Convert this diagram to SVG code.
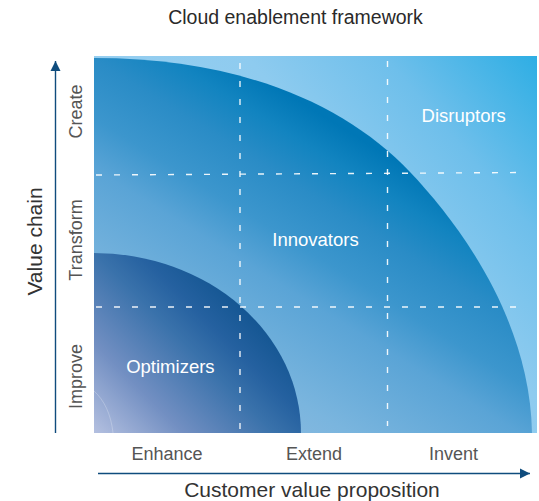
<svg xmlns="http://www.w3.org/2000/svg" width="539" height="501" viewBox="0 0 539 501">
  <style>
    .title { font-family: "Liberation Sans", Arial, sans-serif; font-size: 19.5px; fill: #2a2a2a; text-anchor: middle; }
    .axis-title { font-family: "Liberation Sans", Arial, sans-serif; font-size: 21px; fill: #333333; text-anchor: middle; }
    .tick { font-family: "Liberation Sans", Arial, sans-serif; font-size: 18px; fill: #555555; text-anchor: middle; }
    .region { font-family: "Liberation Sans", Arial, sans-serif; font-size: 18.5px; fill: #ffffff; text-anchor: middle; }
    .grid { stroke: #ffffff; stroke-opacity: 0.9; stroke-width: 1.4; stroke-dasharray: 6 12; fill: none; }
    .axis { stroke: #0f4c7d; stroke-width: 1.4; fill: none; }
  </style>
  <defs>
    <linearGradient id="bgGrad" gradientUnits="userSpaceOnUse" x1="537" y1="56" x2="94" y2="433">
      <stop offset="0" stop-color="#2eaee4"/>
      <stop offset="0.2" stop-color="#6ebfeb"/>
      <stop offset="0.38" stop-color="#8ecbef"/>
      <stop offset="1" stop-color="#a8d6f3"/>
    </linearGradient>
    <linearGradient id="innovGrad" gradientUnits="userSpaceOnUse" x1="200" y1="430" x2="375" y2="148">
      <stop offset="0" stop-color="#90bce1"/>
      <stop offset="0.23" stop-color="#7ab5de"/>
      <stop offset="0.5" stop-color="#5aa4d6"/>
      <stop offset="0.63" stop-color="#3c96cd"/>
      <stop offset="0.78" stop-color="#2a8cc6"/>
      <stop offset="0.9" stop-color="#1284c0"/>
      <stop offset="1" stop-color="#0077b6"/>
    </linearGradient>
    <linearGradient id="optGrad" gradientUnits="userSpaceOnUse" x1="94" y1="433" x2="244" y2="283">
      <stop offset="0" stop-color="#b4c0e0"/>
      <stop offset="0.3" stop-color="#728fc2"/>
      <stop offset="0.6" stop-color="#3a72ab"/>
      <stop offset="0.75" stop-color="#2561a0"/>
      <stop offset="1" stop-color="#0c518c"/>
    </linearGradient>
    <marker id="arrow" viewBox="0 0 10 10" refX="10" refY="5" markerWidth="10" markerHeight="11" markerUnits="userSpaceOnUse" orient="auto">
      <path d="M0,0 L10,5 L0,10 Z" fill="#0f4c7d"/>
    </marker>
  </defs>

  <text class="title" x="295.5" y="24">Cloud enablement framework</text>

  <g id="disruptors">
    <rect x="94" y="56" width="443" height="377" fill="url(#bgGrad)"/>
    <text class="region" x="463.7" y="121.7">Disruptors</text>
  </g>

  <g id="innovators">
    <path d="M94,58 C240,58 345,103.75 410,172 C460,224.5 530,320 532,433 L94,433 Z" fill="url(#innovGrad)"/>
    <text class="region" x="315.5" y="245.7">Innovators</text>
  </g>

  <g id="optimizers">
    <path d="M94,253 A207,180 0 0 1 301,433 L94,433 Z" fill="url(#optGrad)"/>
    <path d="M94,391 C104,400 111,414 113,433" fill="none" stroke="#ffffff" stroke-opacity="0.3" stroke-width="0.8"/>
    <text class="region" x="170.4" y="373">Optimizers</text>
  </g>

  <g id="grid">
    <path class="grid" d="M96,175 L527,172.5"/>
    <path class="grid" d="M96,307 L527,307"/>
    <path class="grid" d="M240,63 L240,433"/>
    <path class="grid" d="M387.5,61 L387.5,426"/>
  </g>

  <g id="connectors">
    <line class="axis" x1="55.5" y1="433" x2="55.5" y2="61" marker-end="url(#arrow)"/>
    <line class="axis" x1="98" y1="473.5" x2="530" y2="473.5" marker-end="url(#arrow)"/>
  </g>

  <g id="y-labels">
    <text class="axis-title" transform="translate(42,241.5) rotate(-90)">Value chain</text>
    <text class="tick" transform="translate(82,111.5) rotate(-90)">Create</text>
    <text class="tick" transform="translate(82,240) rotate(-90)">Transform</text>
    <text class="tick" transform="translate(82,376.5) rotate(-90)">Improve</text>
  </g>

  <g id="x-labels">
    <text class="tick" x="167" y="460">Enhance</text>
    <text class="tick" x="314" y="460">Extend</text>
    <text class="tick" x="453.5" y="460">Invent</text>
    <text class="axis-title" x="312" y="497">Customer value proposition</text>
  </g>
</svg>
